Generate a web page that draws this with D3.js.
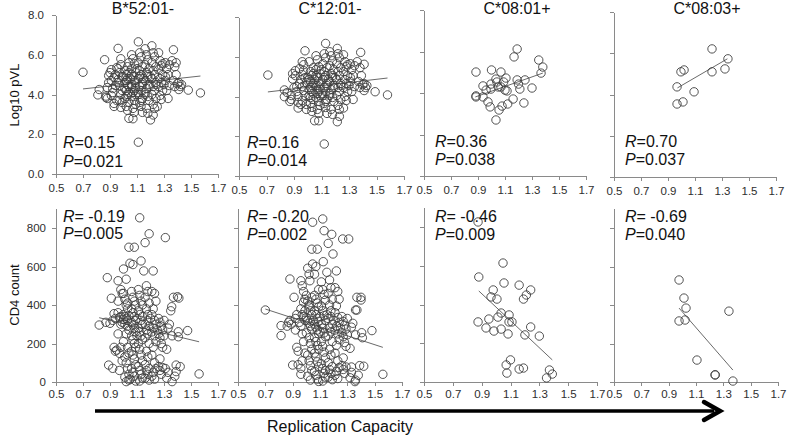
<!DOCTYPE html>
<html><head><meta charset="utf-8">
<script src="https://cdn.jsdelivr.net/npm/d3@7"></script>
<style>
body{margin:0;background:#fff}
text{font-family:"Liberation Sans",Arial,sans-serif}
</style>
</head><body>
<svg id="c" width="787" height="438"></svg>
<script>
// ---------------- DATA ----------------
const titles = ["B*52:01-","C*12:01-","C*08:01+","C*08:03+"];
const xTicks = [0.5,0.7,0.9,1.1,1.3,1.5,1.7];
const pvlTicks = [0,2,4,6,8];
const cd4Ticks = [0,200,400,600,800];
const pvlR = ["0.15","0.16","0.36","0.70"];
const pvlP = ["0.021","0.014","0.038","0.037"];
const cd4R = [" -0.19"," -0.20"," -0.46"," -0.69"];
const cd4P = ["0.005","0.002","0.009","0.040"];

const pvlB5201 = [[0.70,5.12],[0.82,4.25],[0.81,3.98],[0.86,5.75],
[0.87,3.85],[0.88,3.80],[0.89,4.95],[0.88,4.35],[0.90,5.10],[0.89,4.60],[0.87,3.92],
[0.91,5.25],[0.92,4.30],[0.93,3.40],[0.91,4.70],[0.94,5.00],[0.92,4.10],[0.93,3.55],[0.95,5.35],[0.94,4.45],[0.91,3.95],[0.93,4.85],[0.95,3.70],
[0.96,6.32],[0.98,5.80],[0.97,5.10],[0.96,4.60],[0.99,4.20],[0.97,3.70],[0.98,3.35],[0.99,4.90],[0.96,5.30],[0.98,4.00],[0.97,4.45],[0.99,3.60],[0.98,5.50],[0.96,4.75],
[1.01,5.20],[1.02,5.00],[1.03,4.80],[1.01,4.60],[1.04,4.40],[1.02,4.20],[1.03,4.00],[1.01,3.80],[1.04,3.60],[1.02,3.40],[1.03,5.40],[1.04,5.60],[1.00,4.90],[1.03,4.50],[1.01,4.30],[1.04,4.10],[1.02,3.90],[1.03,3.20],[1.04,5.10],[1.02,4.70],[1.04,2.80],
[1.06,6.00],[1.07,5.80],[1.08,5.55],[1.06,5.30],[1.09,5.10],[1.07,4.90],[1.08,4.70],[1.06,4.50],[1.09,4.30],[1.07,4.10],[1.06,3.90],[1.08,3.70],[1.09,3.50],[1.07,3.30],[1.07,2.78],[1.08,3.10],[1.06,5.00],[1.09,4.60],[1.08,4.20],[1.05,4.80],[1.06,4.40],[1.09,4.00],
[1.11,6.65],[1.12,6.10],[1.13,5.90],[1.11,5.60],[1.14,5.40],[1.12,5.20],[1.13,5.00],[1.11,4.80],[1.14,4.60],[1.12,4.40],[1.13,4.20],[1.11,4.00],[1.14,3.80],[1.12,3.60],[1.13,3.40],[1.14,3.10],[1.11,1.60],[1.12,4.90],[1.14,4.50],[1.11,4.10],[1.13,3.70],[1.10,5.30],
[1.16,6.30],[1.17,6.00],[1.18,5.75],[1.16,5.50],[1.19,5.30],[1.17,5.10],[1.18,4.90],[1.16,4.70],[1.19,4.50],[1.17,4.30],[1.16,4.10],[1.18,3.90],[1.19,3.70],[1.17,3.30],[1.18,3.05],[1.15,4.80],[1.19,4.40],[1.16,4.00],[1.18,5.00],
[1.21,6.45],[1.22,6.10],[1.23,5.90],[1.21,5.60],[1.24,5.40],[1.22,5.20],[1.23,5.00],[1.21,4.80],[1.24,4.60],[1.22,4.40],[1.23,4.20],[1.21,4.00],[1.24,3.80],[1.22,3.50],[1.22,2.97],[1.20,2.72],[1.23,3.30],[1.20,4.90],[1.24,4.50],
[1.26,6.10],[1.27,5.70],[1.28,5.45],[1.26,5.25],[1.29,5.00],[1.27,4.80],[1.28,4.60],[1.26,4.40],[1.29,4.20],[1.27,3.95],[1.28,3.75],[1.25,3.39],[1.30,4.50],[1.29,5.55],
[1.31,5.60],[1.32,5.30],[1.33,5.00],[1.31,4.70],[1.34,4.45],[1.32,4.20],[1.33,3.80],[1.34,5.50],[1.31,4.90],
[1.37,6.25],[1.36,5.70],[1.38,5.40],[1.39,5.00],[1.37,4.70],[1.38,4.40],[1.40,4.55],[1.39,5.60],
[1.41,4.60],[1.42,4.40],[1.41,4.25],[1.43,4.50],
[1.48,4.22],[1.57,4.08]];

const pvlC1201 = [[0.71,5.08],[0.83,4.33],[0.83,3.99],[0.85,4.20],
[0.88,4.05],[0.89,4.88],[0.87,3.75],[0.90,4.45],[0.89,5.15],[0.88,3.85],
[0.91,5.30],[0.93,3.42],[0.92,4.25],[0.94,4.65],[0.91,5.05],[0.93,4.00],[0.95,3.60],[0.94,5.40],[0.92,4.50],[0.95,4.85],[0.93,3.70],
[0.98,6.30],[0.97,5.60],[0.96,5.10],[0.99,4.70],[0.97,4.30],[0.96,3.80],[0.99,3.35],[0.98,4.95],[0.97,5.30],[0.98,4.05],[0.96,4.50],[0.99,3.60],[0.96,5.75],
[1.01,5.75],[1.02,5.25],[1.03,5.05],[1.01,4.85],[1.04,4.65],[1.02,4.45],[1.03,4.25],[1.01,4.05],[1.04,3.85],[1.02,3.65],[1.03,3.45],[1.04,5.45],[1.00,4.95],[1.03,4.55],[1.01,4.35],[1.04,4.15],[1.02,3.95],[1.03,3.25],[1.04,5.15],[1.02,4.75],[1.05,2.78],
[1.06,6.05],[1.07,5.85],[1.08,5.50],[1.06,5.35],[1.09,5.15],[1.07,4.95],[1.08,4.75],[1.06,4.55],[1.09,4.35],[1.07,4.15],[1.06,3.95],[1.08,3.75],[1.09,3.55],[1.07,3.35],[1.08,2.78],[1.08,3.15],[1.06,5.05],[1.09,4.65],[1.08,4.25],[1.05,4.85],[1.06,4.45],[1.09,4.05],
[1.13,6.67],[1.12,6.15],[1.13,5.95],[1.11,5.65],[1.14,5.45],[1.12,5.25],[1.13,5.05],[1.11,4.85],[1.14,4.65],[1.12,4.45],[1.13,4.25],[1.11,4.05],[1.14,3.85],[1.12,3.65],[1.13,3.45],[1.14,3.15],[1.12,1.61],[1.12,4.95],[1.14,4.55],[1.11,4.15],[1.13,3.75],[1.10,5.35],
[1.16,6.25],[1.17,6.05],[1.18,5.80],[1.16,5.55],[1.19,5.35],[1.17,5.15],[1.18,4.95],[1.16,4.75],[1.19,4.55],[1.17,4.35],[1.16,4.15],[1.18,3.95],[1.19,3.75],[1.17,3.35],[1.18,3.10],[1.15,4.85],[1.19,4.45],[1.16,4.05],[1.18,5.05],
[1.215,6.42],[1.22,6.15],[1.23,5.95],[1.21,5.65],[1.24,5.45],[1.22,5.25],[1.23,5.05],[1.21,4.85],[1.24,4.65],[1.22,4.45],[1.23,4.25],[1.21,4.05],[1.24,3.85],[1.22,3.55],[1.23,3.00],[1.215,2.73],[1.23,3.35],[1.20,4.95],[1.24,4.55],
[1.26,3.42],[1.27,5.75],[1.28,5.50],[1.26,5.25],[1.29,5.05],[1.27,4.85],[1.28,4.65],[1.26,4.45],[1.29,4.25],[1.27,4.00],[1.28,3.80],[1.30,4.55],[1.29,5.60],[1.26,6.10],
[1.31,5.65],[1.32,5.35],[1.33,5.05],[1.31,4.75],[1.34,4.50],[1.32,4.25],[1.33,3.85],[1.34,5.55],[1.31,4.95],
[1.385,6.22],[1.36,5.75],[1.38,5.45],[1.39,5.05],[1.37,4.75],[1.38,4.45],[1.40,4.60],[1.41,5.62],
[1.41,4.65],[1.42,4.45],[1.41,4.30],[1.43,4.55],
[1.49,4.24],[1.58,4.08]];

const pvlC0801 = [[1.19,6.12],[1.167,5.74],[1.35,5.59],[1.38,5.25],[0.885,5.01],[1.00,5.11],[1.07,5.01],[1.367,4.96],
[1.107,4.72],[1.033,4.67],[1.04,4.53],[0.996,4.43],[1.09,4.53],[1.19,4.63],[1.248,4.63],[0.937,4.34],[0.96,4.14],
[0.996,4.19],[1.05,4.29],[1.07,4.29],[1.115,4.10],[1.10,4.14],[1.20,4.43],[1.21,4.19],[1.30,4.24],[0.885,3.86],
[0.885,3.81],[0.937,3.81],[0.974,3.57],[0.99,3.33],[1.16,3.71],[1.12,3.47],[1.078,3.37],[1.056,3.18],[1.24,3.52],[1.033,2.70]];

const pvlC0803 = [[0.967,4.37],[1.226,6.21],[1.344,5.73],[1.322,5.24],[1.226,5.10],[0.996,5.10],[1.019,5.19],[1.093,4.13],[0.967,3.54],[1.011,3.64]];

const cd4B5201 = [[0.82,296],
[0.88,542],[0.89,88],[0.87,310],[0.90,305],
[0.91,435],[0.92,71],[0.93,355],[0.94,160],[0.95,166],[0.92,320],[0.94,330],[0.93,180],
[0.96,526],[0.97,149],[0.98,480],[0.99,460],[0.96,360],[0.97,335],[0.98,340],[0.99,310],[0.96,250],[0.98,180],[0.99,110],[0.97,60],[0.96,420],[0.98,300],
[1.00,587],[1.02,534],[1.04,700],[1.048,617],[1.01,430],[1.02,400],[1.03,380],[1.00,350],[1.01,340],[1.02,330],[1.03,320],[1.04,345],[1.00,325],[1.01,300],[1.03,290],[1.04,270],[1.02,250],[1.00,210],[1.03,180],[1.04,150],[1.01,130],[1.02,100],[1.03,70],[1.04,40],[1.02,2],[1.04,10],[1.01,25],[1.03,410],[1.00,460],
[1.08,700],[1.07,610],[1.05,15],[1.06,470],[1.07,440],[1.08,420],[1.09,400],[1.06,380],[1.07,360],[1.08,340],[1.09,320],[1.06,310],[1.07,295],[1.08,280],[1.09,260],[1.06,240],[1.07,220],[1.08,200],[1.09,180],[1.06,160],[1.07,140],[1.08,120],[1.09,90],[1.06,70],[1.07,50],[1.08,30],[1.09,5],[1.10,330],
[1.12,853],[1.13,629],[1.15,577],[1.11,480],[1.12,450],[1.13,420],[1.14,400],[1.11,370],[1.12,350],[1.13,320],[1.14,300],[1.11,280],[1.12,260],[1.13,240],[1.14,220],[1.11,200],[1.12,170],[1.13,140],[1.14,110],[1.11,80],[1.12,60],[1.13,40],[1.14,20],[1.12,5],[1.10,240],[1.14,340],
[1.19,770],[1.16,724],[1.17,500],[1.18,470],[1.16,440],[1.19,410],[1.17,380],[1.18,350],[1.16,300],[1.19,290],[1.17,270],[1.18,250],[1.16,230],[1.19,200],[1.17,160],[1.18,130],[1.16,90],[1.19,70],[1.17,60],[1.18,40],[1.16,20],[1.19,10],[1.18,320],
[1.22,577],[1.21,470],[1.23,460],[1.24,420],[1.22,380],[1.21,350],[1.23,320],[1.24,300],[1.22,280],[1.21,260],[1.23,240],[1.24,210],[1.22,180],[1.21,140],[1.23,100],[1.24,70],[1.22,50],[1.21,30],[1.23,15],[1.20,330],[1.25,270],
[1.26,330],[1.27,310],[1.28,290],[1.29,270],[1.26,250],[1.27,230],[1.28,200],[1.29,180],[1.26,80],[1.27,60],[1.28,40],[1.29,75],[1.30,320],[1.27,120],
[1.31,750],[1.32,170],[1.30,240],[1.33,280],[1.34,300],[1.31,70],[1.33,50],[1.32,20],
[1.357,391],[1.35,370],[1.36,2],[1.39,88],[1.39,54],[1.38,30],[1.37,440],[1.36,240],
[1.40,443],[1.41,436],[1.406,261],[1.406,235],[1.42,80],
[1.475,267],[1.56,42]];

const cd4C1201 = [[0.70,374],[0.815,293],[0.815,241],
[0.88,535],[0.87,310],[0.89,300],[0.90,88],[0.88,320],[0.86,290],
[0.91,440],[0.92,330],[0.93,180],[0.94,160],[0.96,71],[0.93,350],[0.95,310],[0.92,270],[0.94,90],
[0.96,526],[0.97,500],[0.98,470],[0.99,430],[0.96,380],[0.97,350],[0.98,340],[0.99,320],[0.96,290],[0.97,250],[0.98,210],[0.99,150],[0.97,110],[0.96,40],[0.98,415],[0.99,370],
[1.01,591],[1.026,526],[1.046,830],[1.04,690],[1.046,613],[1.02,560],[1.00,450],[1.01,420],[1.02,390],[1.03,370],[1.04,350],[1.00,335],[1.01,320],[1.02,305],[1.03,290],[1.04,275],[1.00,255],[1.02,230],[1.03,200],[1.04,170],[1.01,140],[1.02,110],[1.03,85],[1.04,60],[1.01,30],[1.03,10],[1.02,400],[1.04,440],
[1.08,690],[1.07,600],[1.06,560],[1.09,480],[1.06,450],[1.07,430],[1.08,410],[1.09,390],[1.06,370],[1.07,350],[1.08,330],[1.09,315],[1.06,300],[1.07,285],[1.08,270],[1.09,250],[1.06,230],[1.07,210],[1.08,190],[1.09,170],[1.06,150],[1.07,130],[1.08,105],[1.09,80],[1.06,55],[1.07,35],[1.08,15],[1.09,3],[1.05,320],[1.10,340],
[1.12,847],[1.13,786],[1.124,625],[1.15,570],[1.11,520],[1.12,480],[1.13,455],[1.14,425],[1.11,395],[1.12,370],[1.13,345],[1.14,320],[1.11,300],[1.12,280],[1.13,255],[1.14,235],[1.11,210],[1.12,185],[1.13,155],[1.14,125],[1.11,95],[1.12,70],[1.13,45],[1.14,25],[1.12,5],[1.10,260],[1.15,350],[1.14,60],
[1.186,767],[1.16,720],[1.195,665],[1.17,530],[1.18,490],[1.16,460],[1.19,430],[1.17,400],[1.18,370],[1.16,330],[1.19,300],[1.17,280],[1.18,260],[1.16,240],[1.19,210],[1.17,170],[1.18,140],[1.16,100],[1.19,80],[1.17,65],[1.18,45],[1.16,25],[1.19,12],[1.18,340],
[1.22,577],[1.21,490],[1.23,470],[1.24,430],[1.22,395],[1.21,360],[1.23,335],[1.24,310],[1.22,290],[1.21,270],[1.23,250],[1.24,220],[1.22,190],[1.21,150],[1.23,110],[1.24,75],[1.22,55],[1.21,35],[1.23,18],[1.20,320],[1.25,280],
[1.266,743],[1.26,340],[1.27,315],[1.28,295],[1.29,275],[1.26,255],[1.27,235],[1.28,205],[1.29,185],[1.26,85],[1.27,65],[1.28,45],[1.29,78],[1.30,330],[1.27,125],
[1.31,743],[1.32,175],[1.30,245],[1.33,285],[1.34,305],[1.33,78],[1.33,50],[1.32,22],
[1.37,374],[1.36,374],[1.356,2],[1.36,10],[1.39,85],[1.38,35],[1.37,440],[1.36,245],
[1.40,426],[1.40,440],[1.405,256],[1.41,230],[1.42,82],
[1.48,267],[1.56,40]];

const cd4C0801 = [[0.875,826],[1.048,614],[0.88,542],[1.055,511],[1.16,500],[1.24,475],[0.98,475],[0.965,439],[1.006,428],
[1.21,449],[1.19,428],[1.035,356],[1.013,335],[1.09,346],[0.95,325],[0.875,310],[1.09,310],[1.11,310],[0.93,279],
[1.035,273],[1.24,284],[0.985,263],[1.083,248],[1.20,243],[1.30,237],[1.10,114],[1.07,88],[1.16,67],[1.19,72],
[1.075,46],[1.37,62],[1.39,41],[1.35,21]];

const cd4C0803 = [[0.976,530],[1.012,436],[1.027,384],[0.976,317],[1.02,322],[1.341,368],[1.107,114],[1.24,36],[1.24,38],[1.37,5]];

const pvlTrend = [[[0.70,4.28],[1.57,4.93]],[[0.71,4.23],[1.58,4.93]],[[0.88,3.81],[1.38,4.96]],[[0.97,4.32],[1.34,5.73]]];
const cd4Trend = [[[0.82,334],[1.56,209]],[[0.70,379],[1.56,180]],[[0.88,470],[1.39,114]],[[0.976,384],[1.37,62]]];

const pvlSeries = [pvlB5201,pvlC1201,pvlC0801,pvlC0803];
const cd4Series = [cd4B5201,cd4C1201,cd4C0801,cd4C0803];

// ---------------- LAYOUT ----------------
const topPanels = [
  {x0:56,x1:218,yTop:15,yBot:174},
  {x0:239,x1:404,yTop:17,yBot:176},
  {x0:424,x1:586,yTop:10,yBot:176},
  {x0:614,x1:776,yTop:12,yBot:177}];
const botPanels = [
  {x0:56,x1:218,y800:228,yBot:382},
  {x0:238,x1:402,y800:228,yBot:382},
  {x0:424,x1:597,y800:227,yBot:382},
  {x0:614,x1:778,y800:228,yBot:382}];
const textPos = [
  {x:63, r1:148, p1:167, r2:222, p2:239},
  {x:247,r1:148, p1:166, r2:222, p2:240},
  {x:435,r1:147, p1:165, r2:222, p2:240},
  {x:625,r1:147, p1:165, r2:222, p2:240}];
const titleX = [143,330,517,707];

const svg = d3.select("#c");
const AX = "#8a8a8a", TXT = "#2e2e2e";

function styleAxis(g){
  g.selectAll("path,line").attr("stroke",AX).attr("stroke-width",1).attr("shape-rendering","crispEdges");
  g.selectAll("text").attr("fill",TXT).style("font-size","11.5px").style("font-family",'"Liberation Sans",Arial,sans-serif');
}

function drawPanel(i, row){
  let x, y, data, trend, rTxt, pTxt, yTicks, yFmt, rY, pY;
  if(row===0){
    const p = topPanels[i];
    x = d3.scaleLinear().domain([0.5,1.7]).range([p.x0,p.x1]);
    y = d3.scaleLinear().domain([0,8]).range([p.yBot,p.yTop]);
    data = pvlSeries[i]; trend = pvlTrend[i];
    rTxt = pvlR[i]; pTxt = pvlP[i]; yTicks = pvlTicks; yFmt = d3.format(".1f");
    rY = textPos[i].r1; pY = textPos[i].p1;
  } else {
    const p = botPanels[i];
    x = d3.scaleLinear().domain([0.5,1.7]).range([p.x0,p.x1]);
    const k = (p.yBot-p.y800)/800;
    y = d3.scaleLinear().domain([0,900]).range([p.yBot,p.yBot-900*k]);
    data = cd4Series[i]; trend = cd4Trend[i];
    rTxt = cd4R[i]; pTxt = cd4P[i]; yTicks = cd4Ticks; yFmt = d3.format("d");
    rY = textPos[i].r2; pY = textPos[i].p2;
  }
  const yAx = d3.axisLeft(y).tickValues(yTicks).tickSizeInner(4).tickSizeOuter(0).tickPadding(row===0?8:6)
     .tickFormat(i===0? yFmt : "");
  svg.append("g").attr("transform",`translate(${x.range()[0]},0)`).call(yAx).call(styleAxis);
  const xAx = d3.axisBottom(x).tickValues(xTicks).tickSizeInner(4).tickSizeOuter(0).tickPadding(row===0?6:4)
     .tickFormat(d3.format(".1f"));
  svg.append("g").attr("transform",`translate(0,${y(0)})`).call(xAx).call(styleAxis);

  // trend line
  svg.append("line")
    .attr("x1",x(trend[0][0])).attr("y1",y(trend[0][1]))
    .attr("x2",x(trend[1][0])).attr("y2",y(trend[1][1]))
    .attr("stroke","#6a6a6a").attr("stroke-width",1);

  // points
  svg.append("g").selectAll("circle").data(data).join("circle")
    .attr("cx",d=>x(d[0])).attr("cy",d=>y(d[1])).attr("r",4.2)
    .attr("fill","none").attr("stroke","#404040").attr("stroke-width",0.9);

  // stats
  const tp = textPos[i];
  const t1 = svg.append("text").attr("x",tp.x).attr("y",rY).attr("fill","#111").style("font-size","16px");
  t1.append("tspan").style("font-style","italic").text("R");
  t1.append("tspan").text("="+rTxt);
  const t2 = svg.append("text").attr("x",tp.x).attr("y",pY).attr("fill","#111").style("font-size","16px");
  t2.append("tspan").style("font-style","italic").text("P");
  t2.append("tspan").text("="+pTxt);
}

for(let r=0;r<2;r++) for(let i=0;i<4;i++) drawPanel(i,r);

// titles
svg.selectAll(".ttl").data(titles).join("text").attr("class","ttl")
  .attr("x",(d,i)=>titleX[i]).attr("y",14).attr("text-anchor","middle")
  .attr("fill","#111").style("font-size","16px").text(d=>d);

// y axis titles
svg.append("text").attr("transform","translate(19,95) rotate(-90)").attr("text-anchor","middle")
  .attr("fill","#111").style("font-size","13px").text("Log10 pVL");
svg.append("text").attr("transform","translate(19,295) rotate(-90)").attr("text-anchor","middle")
  .attr("fill","#111").style("font-size","13px").text("CD4 count");

// arrow
svg.append("line").attr("x1",95).attr("y1",411).attr("x2",714).attr("y2",411)
  .attr("stroke","#000").attr("stroke-width",3.5);
svg.append("path").attr("d","M704,402 L720,411 L704,420").attr("fill","none")
  .attr("stroke","#000").attr("stroke-width",4.5).attr("stroke-linecap","round").attr("stroke-linejoin","miter");
svg.append("text").attr("x",340).attr("y",432).attr("text-anchor","middle")
  .attr("fill","#111").style("font-size","16px").text("Replication Capacity");
</script>
</body></html>
